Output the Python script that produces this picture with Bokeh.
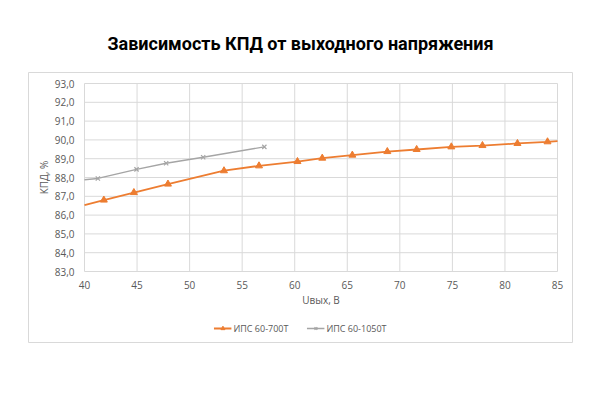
import math
from bokeh.plotting import figure
from bokeh.models import Range1d, Legend, LegendItem
from bokeh.core.properties import value
from bokeh.embed import file_html
from bokeh.resources import INLINE

# ---- data ----
title_text = "Зависимость КПД от выходного напряжения"
series1_name = "ИПС 60-700Т"
series1_x = [41.84, 44.70, 47.94, 53.27, 56.60, 60.26, 62.62, 65.48, 68.81, 71.60, 74.90, 77.86, 81.19, 84.05]
series1_y = [86.80, 87.20, 87.65, 88.36, 88.62, 88.85, 89.03, 89.19, 89.38, 89.49, 89.63, 89.70, 89.81, 89.90]
series1_edge_x = [40.0, 85.0]          # line continues to the plot edges
series1_edge_y = [86.53, 89.94]
series2_name = "ИПС 60-1050Т"
series2_x = [41.27, 44.95, 47.77, 51.29, 57.11]
series2_y = [87.95, 88.43, 88.76, 89.08, 89.63]
series2_edge_x = [40.0]
series2_edge_y = [87.88]
x_ticks = [40, 45, 50, 55, 60, 65, 70, 75, 80, 85]
x_tick_labels = ["40", "45", "50", "55", "60", "65", "70", "75", "80", "85"]
y_ticks = [83, 84, 85, 86, 87, 88, 89, 90, 91, 92, 93]
y_tick_labels = ["83,0", "84,0", "85,0", "86,0", "87,0", "88,0", "89,0", "90,0", "91,0", "92,0", "93,0"]
x_label = "Uвых, В"
y_label = "КПД, %"

# ---- style / layout ----
ORANGE = "#ED7D31"
GRAY = "#A5A5A5"
GRID = "#D9D9D9"
TXT = "#595959"
FONT = "Open Sans"
W, H = 600, 400
X0, X1, Y0, Y1 = x_ticks[0], x_ticks[-1], y_ticks[0], y_ticks[-1]
PL, PR, PT, PB = 84, 557, 83, 271          # plot area in px
BOX = (28, 572, 72, 342)                    # chart border in px
xs = (X1 - X0) / (PR - PL)
ys = (Y1 - Y0) / (PB - PT)
def dx(px): return X0 + (px - PL) * xs
def dy(py): return Y1 - (py - PT) * ys

p = figure(width=W, height=H, output_backend="svg", toolbar_location=None,
           x_range=Range1d(dx(0), dx(W)), y_range=Range1d(dy(H), dy(0)),
           x_axis_type=None, y_axis_type=None,
           min_border=0, min_border_left=0, min_border_right=0, min_border_top=0, min_border_bottom=0)
p.outline_line_color = None
p.xgrid.visible = False
p.ygrid.visible = False
p.background_fill_color = "white"
p.border_fill_color = "white"

# chart border
p.quad(left=[dx(BOX[0])], right=[dx(BOX[1])], top=[dy(BOX[2])], bottom=[dy(BOX[3])],
       fill_color=None, line_color=GRID, line_width=1)

# grid
p.segment(x0=x_ticks, y0=[Y0] * len(x_ticks), x1=x_ticks, y1=[Y1] * len(x_ticks), line_color=GRID, line_width=1)
p.segment(x0=[X0] * len(y_ticks), y0=y_ticks, x1=[X1] * len(y_ticks), y1=y_ticks, line_color=GRID, line_width=1)

# tick labels
p.text(x=x_ticks, y=[Y0] * len(x_ticks), text=x_tick_labels, y_offset=13,
       text_align="center", text_baseline="middle", text_color=TXT,
       text_font=value(FONT), text_font_size="10px")
p.text(x=[X0] * len(y_ticks), y=y_ticks, text=y_tick_labels, x_offset=-10,
       text_align="right", text_baseline="middle", text_color=TXT,
       text_font=value(FONT), text_font_size="10px")
# axis titles
p.text(x=[(X0 + X1) / 2], y=[Y0], text=[x_label], y_offset=28,
       text_align="center", text_baseline="middle", text_color=TXT,
       text_font=value(FONT), text_font_size="10px")
p.text(x=[X0], y=[(Y0 + Y1) / 2], text=[y_label], x_offset=-41, angle=math.pi / 2,
       text_align="center", text_baseline="middle", text_color=TXT,
       text_font=value(FONT), text_font_size="10px")
# title
p.text(x=[dx(300)], y=[dy(43)], text=[title_text],
       text_align="center", text_baseline="alphabetic", text_color="black",
       text_font=value("Roboto"), text_font_style="bold", text_font_size="18px")

# series
s1_lx = [series1_edge_x[0]] + series1_x + [series1_edge_x[1]]
s1_ly = [series1_edge_y[0]] + series1_y + [series1_edge_y[1]]
s2_lx = series2_edge_x + series2_x
s2_ly = series2_edge_y + series2_y
r1l = p.line(s1_lx, s1_ly, line_color=ORANGE, line_width=1.8)
r1m = p.scatter(series1_x, series1_y, marker="triangle", size=7, fill_color=ORANGE, line_color=ORANGE)
r2l = p.line(s2_lx, s2_ly, line_color=GRAY, line_width=1.4)
r2m = p.scatter(series2_x, series2_y, marker="x", size=6, line_color=GRAY, line_width=1.2)

legend = Legend(items=[LegendItem(label=series1_name, renderers=[r1l, r1m]),
                       LegendItem(label=series2_name, renderers=[r2l, r2m])],
                orientation="horizontal", location="bottom_center",
                label_text_font=FONT, label_text_font_size="9px", label_text_color=TXT,
                glyph_width=18, glyph_height=10, label_standoff=2, spacing=18,
                padding=0, margin=65, label_height=14,
                border_line_color=None, background_fill_alpha=0)
p.add_layout(legend)

open("out.html", "w").write(file_html(p, INLINE))
